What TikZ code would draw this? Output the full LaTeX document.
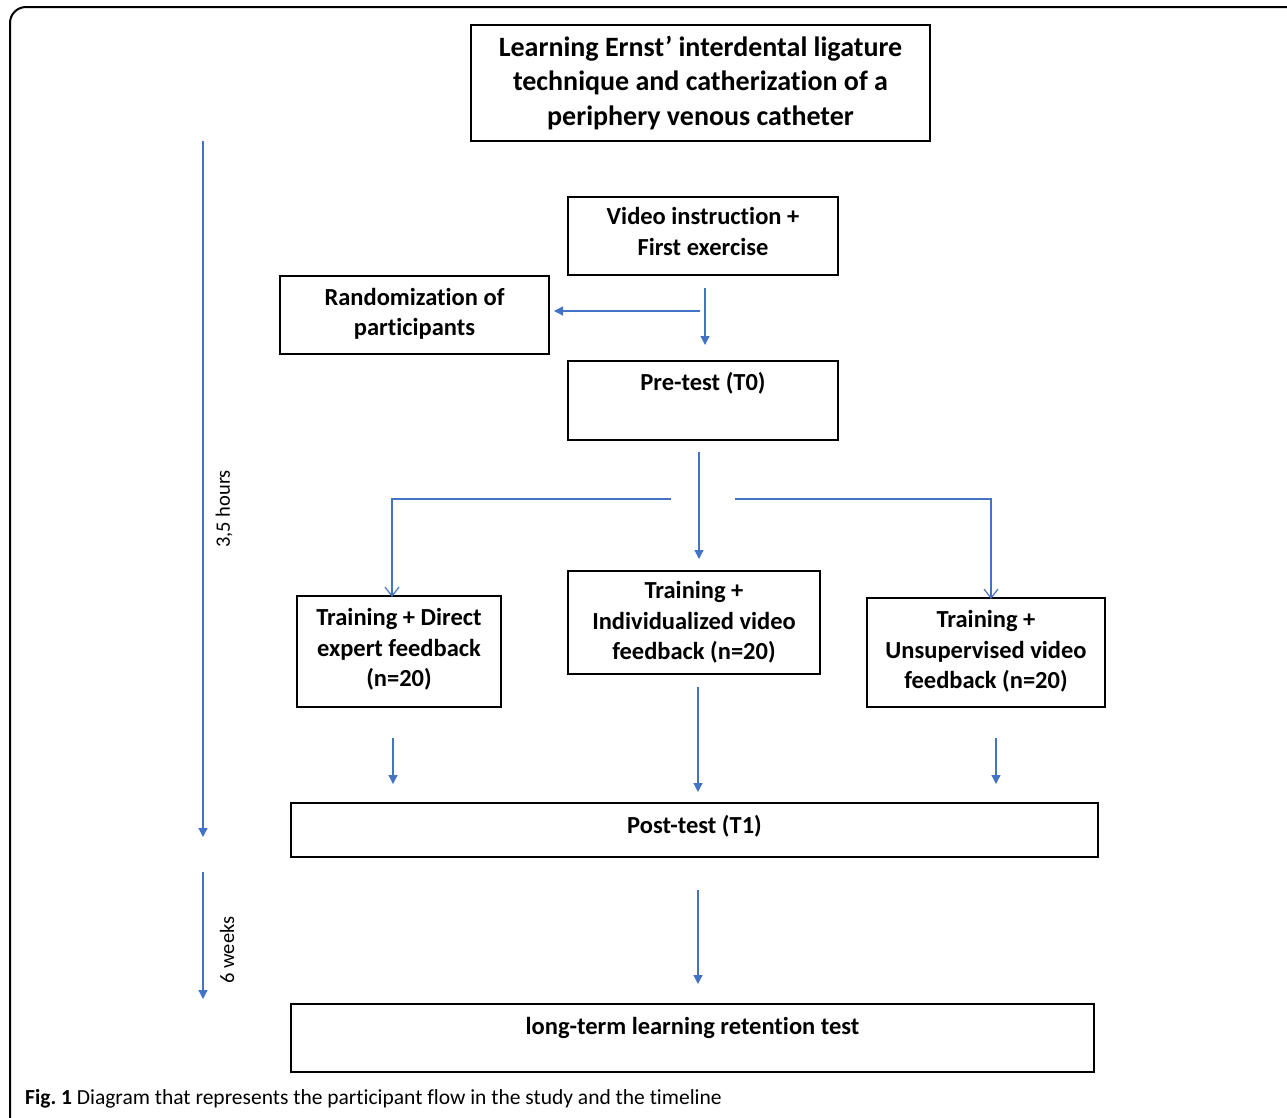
\documentclass[tikz,border=0pt]{standalone}
\usepackage{fontspec}
\setmainfont{Carlito}[Ligatures=NoCommon]
\usetikzlibrary{arrows.meta}
\definecolor{arrowblue}{HTML}{4472C4}
\tikzset{
  boxfont/.style={font=\bfseries\fontsize{24.5}{30.5}\selectfont},
  box/.style={draw=black, line width=1.2pt, inner sep=0pt, align=center, boxfont},
  flow/.style={draw=arrowblue, line width=1.2pt, -{Triangle[width=9pt,length=9pt]}},
  flowopen/.style={draw=arrowblue, line width=1.2pt, -{Straight Barb[width=14pt,length=9pt,line width=1.2pt]}},
  sidelabel/.style={font=\fontsize{20.5}{22}\selectfont, rotate=90, inner sep=0pt},
}
\begin{document}
\begin{tikzpicture}[x=1pt,y=-1pt]
\useasboundingbox (0,0) rectangle (1287,1117);
\begin{scope}
\clip (0,0) rectangle (1287,1117);
\draw[line width=2pt, rounded corners=16pt] (10,7) rectangle (1320,1150);
\end{scope}

% boxes
\node[box, minimum width=459pt, minimum height=116pt, font=\bfseries\fontsize{28}{34.5}\selectfont] (title) at (700.5,83) {Learning Ernst’ interdental ligature\\technique and catherization of a\\periphery venous catheter};
\node[box, minimum width=270pt, minimum height=78pt, text depth=9pt] (video) at (703,236) {Video instruction +\\First exercise};
\node[box, minimum width=269pt, minimum height=78pt, text depth=6pt] (rand) at (414.5,315) {Randomization of\\participants};
\node[box, minimum width=270pt, minimum height=79pt,
  label={[anchor=north, boxfont, yshift=-8pt]north:Pre-test (T0)}] (pre) at (703,400.5) {};
\node[box, minimum width=204pt, minimum height=111pt, text depth=8pt] (tdir) at (399,651.5) {Training + Direct\\expert feedback\\(n=20)};
\node[box, minimum width=252pt, minimum height=103pt] (tind) at (694,622.5) {Training +\\Individualized video\\feedback (n=20)};
\node[box, minimum width=238pt, minimum height=109pt, text depth=6pt] (tuns) at (986,652.5) {Training +\\Unsupervised video\\feedback (n=20)};
\node[box, minimum width=807pt, minimum height=54pt,
  label={[anchor=north, boxfont, yshift=-9pt]north:Post-test (T1)}] (post) at (694.5,830) {};
\node[box, minimum width=803pt, minimum height=68pt,
  label={[anchor=north, boxfont, yshift=-10pt]north:long-term learning retention test}] (lt) at (692.5,1038) {};

% connector coordinates
\coordinate (v1) at (705,288);
\coordinate (v2) at (705,345);
\coordinate (h1) at (700,311);
\coordinate (h2) at (554,311);
\coordinate (p1) at (699,452);
\coordinate (p2) at (699,559);
\coordinate (bl1) at (671,499);
\coordinate (bl2) at (392,499);
\coordinate (bl3) at (392,597);
\coordinate (br1) at (735,499);
\coordinate (br2) at (991,499);
\coordinate (br3) at (991,599);
\coordinate (d1a) at (393,738);
\coordinate (d1b) at (393,784);
\coordinate (d2a) at (698,687);
\coordinate (d2b) at (698,792);
\coordinate (d3a) at (996,738);
\coordinate (d3b) at (996,784);
\coordinate (e1) at (698,890);
\coordinate (e2) at (698,984);
\coordinate (t1) at (203,141);
\coordinate (t2) at (203,837);
\coordinate (t3) at (203,872);
\coordinate (t4) at (203,999);

\draw[flow] (v1) -- (v2);
\draw[flow] (h1) -- (h2);
\draw[flow] (p1) -- (p2);
\draw[flowopen] (bl1) -- (bl2) -- (bl3);
\draw[flowopen] (br1) -- (br2) -- (br3);
\draw[flow] (d1a) -- (d1b);
\draw[flow] (d2a) -- (d2b);
\draw[flow] (d3a) -- (d3b);
\draw[flow] (e1) -- (e2);
\draw[flow] (t1) -- (t2);
\draw[flow] (t3) -- (t4);

\node[sidelabel] (hours) at (224,509) {3,5 hours};
\node[sidelabel] (weeks) at (227,950) {6 weeks};

\node[anchor=west, inner sep=0pt, font=\fontsize{21.5}{24}\selectfont] (cap) at (25,1099) {\textbf{Fig.\ 1} Diagram that represents the participant flow in the study and the timeline};
\end{tikzpicture}
\end{document}
